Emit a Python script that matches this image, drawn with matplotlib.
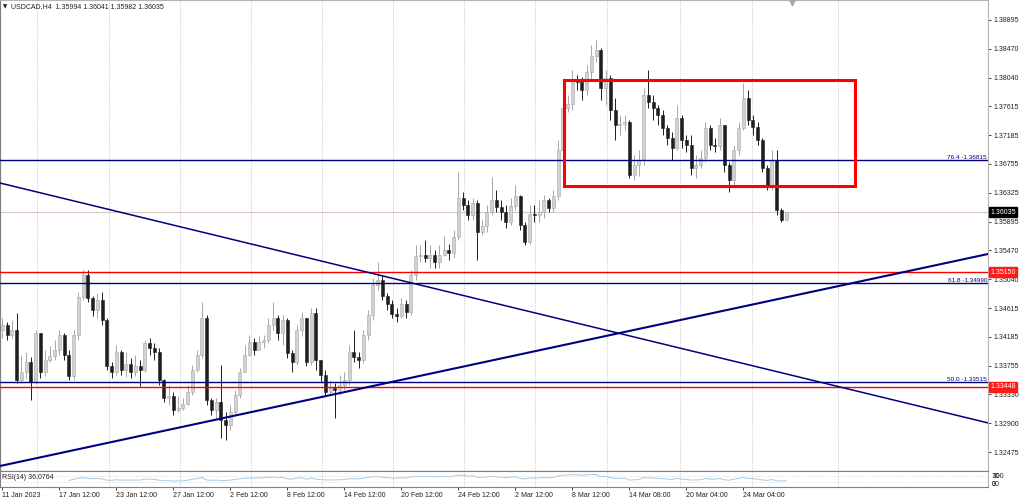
import matplotlib
matplotlib.use("Agg")
import matplotlib.pyplot as plt
import numpy as np

plt.rcParams['font.family'] = ['Liberation Sans', 'DejaVu Sans']

# ---------------- data ----------------
header_text = "USDCAD,H4  1.35994 1.36041 1.35982 1.36035"
rsi_text = "RSI(14) 36.0764"

first_open = 1.3429
closes = [
    1.3436, 1.3421, 1.3429, 1.3355, 1.3366, 1.3381, 1.3352, 1.3424, 1.3366, 1.3384,
    1.3390, 1.3399, 1.3421, 1.3392, 1.3360, 1.3421, 1.3478, 1.3511, 1.3476, 1.3459,
    1.3473, 1.3444, 1.3375, 1.3366, 1.3396, 1.3369, 1.3378, 1.3366, 1.3375, 1.3369,
    1.3410, 1.3402, 1.3396, 1.3355, 1.3328, 1.3331, 1.3310, 1.3313, 1.3319, 1.3337,
    1.3369, 1.3392, 1.3447, 1.3325, 1.3310, 1.3322, 1.3295, 1.3288, 1.3307, 1.3332,
    1.3366, 1.3392, 1.3411, 1.3399, 1.3411, 1.3414, 1.3436, 1.3447, 1.3424, 1.3444,
    1.3395, 1.3381, 1.3429, 1.3447, 1.3381, 1.3454, 1.3384, 1.3362, 1.3337, 1.3343,
    1.3340, 1.3347, 1.3355, 1.3396, 1.3389, 1.3384, 1.3421, 1.3451, 1.3496, 1.3503,
    1.3479, 1.3467, 1.3453, 1.3450, 1.3467, 1.3456, 1.3511, 1.3539, 1.3540, 1.3536,
    1.3540, 1.3530, 1.3540, 1.3548, 1.3543, 1.3567, 1.3625, 1.3615, 1.3600, 1.3618,
    1.3574, 1.3583, 1.3604, 1.3622, 1.3612, 1.3604, 1.3589, 1.3613, 1.3628, 1.3585,
    1.3560, 1.3601, 1.3600, 1.3604, 1.3622, 1.3610, 1.3628, 1.3696, 1.3759, 1.3765,
    1.3800, 1.3797, 1.3785, 1.3812, 1.3836, 1.3845, 1.3788, 1.3803, 1.3756, 1.3733,
    1.3735, 1.3738, 1.3659, 1.3674, 1.3681, 1.3778, 1.3768, 1.3759, 1.3748, 1.3729,
    1.3714, 1.3699, 1.3744, 1.3711, 1.3704, 1.3670, 1.3674, 1.3684, 1.3729, 1.3704,
    1.3702, 1.3733, 1.3674, 1.3652, 1.3696, 1.3729, 1.3774, 1.3741, 1.3731, 1.3711,
    1.3670, 1.3643, 1.3681, 1.3607, 1.3592, 1.36035]
highs = [
    1.3447, 1.3441, 1.3444, 1.3454, 1.3392, 1.3396, 1.3389, 1.3429, 1.3424, 1.3399,
    1.3405, 1.3414, 1.3429, 1.3424, 1.3399, 1.3429, 1.3485, 1.3518, 1.3518, 1.3479,
    1.3484, 1.3485, 1.3447, 1.3381, 1.3407, 1.3399, 1.3396, 1.3387, 1.3392, 1.3384,
    1.3414, 1.3417, 1.3410, 1.3402, 1.3356, 1.3347, 1.3337, 1.3331, 1.3328, 1.3347,
    1.3377, 1.3399, 1.3470, 1.3451, 1.3328, 1.3328, 1.3377, 1.3307, 1.3317, 1.3340,
    1.3372, 1.3407, 1.3421, 1.3417, 1.3420, 1.3421, 1.3447, 1.3470, 1.3451, 1.3451,
    1.3447, 1.3399, 1.3436, 1.3456, 1.3447, 1.3461, 1.3461, 1.3384, 1.3369, 1.3355,
    1.3350, 1.3362, 1.3366, 1.3407, 1.3429, 1.3396, 1.3429, 1.3459, 1.3506, 1.3530,
    1.3509, 1.3484, 1.3473, 1.3461, 1.3476, 1.3473, 1.3518, 1.3555, 1.3555, 1.3563,
    1.3555, 1.3548, 1.3555, 1.3569, 1.3557, 1.3577, 1.3664, 1.3634, 1.3622, 1.3625,
    1.3622, 1.3592, 1.3615, 1.3656, 1.3637, 1.3622, 1.3615, 1.3625, 1.3644, 1.3629,
    1.3589, 1.3615, 1.3615, 1.3622, 1.3629, 1.3625, 1.3637, 1.3711, 1.3771, 1.3778,
    1.3815, 1.3808, 1.3805, 1.3823, 1.3852, 1.3860, 1.3848, 1.3815, 1.3808, 1.3774,
    1.3748, 1.3748, 1.3741, 1.3689, 1.3696, 1.3788, 1.3815, 1.3778, 1.3763, 1.3756,
    1.3733, 1.3723, 1.3763, 1.3748, 1.3719, 1.3719, 1.3689, 1.3696, 1.3738, 1.3733,
    1.3714, 1.3744, 1.3733, 1.3678, 1.3704, 1.3738, 1.3796, 1.3785, 1.3748, 1.3738,
    1.3714, 1.3674, 1.3696, 1.3696, 1.3610, 1.36041]
lows = [
    1.3417, 1.3414, 1.3417, 1.3350, 1.3350, 1.3358, 1.3325, 1.3349, 1.3358, 1.3360,
    1.3381, 1.3384, 1.3392, 1.3384, 1.3355, 1.3355, 1.3414, 1.3473, 1.3470, 1.3450,
    1.3447, 1.3436, 1.3369, 1.3358, 1.3362, 1.3362, 1.3359, 1.3358, 1.3360, 1.3346,
    1.3366, 1.3392, 1.3384, 1.3347, 1.3322, 1.3317, 1.3302, 1.3307, 1.3310, 1.3317,
    1.3332, 1.3366, 1.3387, 1.3317, 1.3302, 1.3298, 1.3268, 1.3265, 1.3280, 1.3302,
    1.3328, 1.3366, 1.3390, 1.3392, 1.3399, 1.3402, 1.3410, 1.3429, 1.3414, 1.3407,
    1.3387, 1.3366, 1.3377, 1.3420, 1.3375, 1.3377, 1.3369, 1.3352, 1.3331, 1.3332,
    1.3298, 1.3332, 1.3340, 1.3347, 1.3381, 1.3372, 1.3380, 1.3414, 1.3444, 1.3488,
    1.3473, 1.3459, 1.3447, 1.3441, 1.3447, 1.3447, 1.3451, 1.3503, 1.3530, 1.3530,
    1.3521, 1.3521, 1.3521, 1.3539, 1.3533, 1.3536, 1.3563, 1.3607, 1.3592, 1.3592,
    1.3533, 1.3570, 1.3574, 1.3600, 1.3604, 1.3592, 1.3580, 1.3585, 1.3607, 1.3577,
    1.3555, 1.3557, 1.3589, 1.3589, 1.3595, 1.3604, 1.3604, 1.3622, 1.3689, 1.3753,
    1.3756, 1.3785, 1.3771, 1.3778, 1.3800, 1.3827, 1.3771, 1.3763, 1.3741, 1.3711,
    1.3719, 1.3726, 1.3655, 1.3652, 1.3658, 1.3674, 1.3759, 1.3741, 1.3733, 1.3719,
    1.3704, 1.3681, 1.3696, 1.3699, 1.3693, 1.3659, 1.3655, 1.3670, 1.3678, 1.3696,
    1.3693, 1.3696, 1.3664, 1.3634, 1.3644, 1.3689, 1.3726, 1.3733, 1.3719, 1.3704,
    1.3664, 1.3637, 1.3637, 1.3600, 1.3589, 1.35982]
opens = [first_open] + closes[:-1]

price_ticks = [1.38895, 1.38470, 1.38040, 1.37615, 1.37185, 1.36755, 1.36325,
               1.35895, 1.35470, 1.35040, 1.34615, 1.34185, 1.33755, 1.33330,
               1.32900, 1.32475]
time_labels = ["11 Jan 2023", "17 Jan 12:00", "23 Jan 12:00", "27 Jan 12:00",
               "2 Feb 12:00", "8 Feb 12:00", "14 Feb 12:00", "20 Feb 12:00",
               "24 Feb 12:00", "2 Mar 12:00", "8 Mar 12:00", "14 Mar 08:00",
               "20 Mar 04:00", "24 Mar 04:00"]
time_label_idx = [0, 12, 24, 36, 48, 60, 72, 84, 96, 108, 120, 132, 144, 156]
grid_idx = [7.3, 22.4, 37.4, 52.3, 67.3, 82.2, 97.2, 112.1, 127.3, 142.6, 157.8, 175.9]

fib_names = ["76.4", "61.8", "50.0"]
fib_levels = [1.36815, 1.34990, 1.33515]
red_levels = [1.35150, 1.33448]
last_price = 1.36035

desc_line = [(0, 1.36464), (165, 1.33636)]
asc_line = [(0, 1.32275), (165, 1.34774)]
box_x = [118.2, 179.5]
box_y = [1.36428, 1.38003]

price_top, price_bottom = 1.39192, 1.32193
n_visible = 208

# ---------------- figure ----------------
W, H = 1024, 501
fig = plt.figure(figsize=(W / 100, H / 100), dpi=100)
fig.patch.set_facecolor('white')
ax = fig.add_axes([0, (H - 471) / H, 988 / W, 471 / H])
ax_r = fig.add_axes([0, (H - 487) / H, 988 / W, 16 / H], sharex=ax)

navy = '#000080'
grid_col = '#c8c8c8'
fs = 5

ax.set_xlim(-0.5, n_visible - 0.5)
ax.set_ylim(price_bottom, price_top)

for g in grid_idx:
    ax.axvline(g, color=grid_col, lw=0.6, ls=(0, (1.5, 1.5)), zorder=0)
    ax_r.axvline(g, color=grid_col, lw=0.6, ls=(0, (1.5, 1.5)), zorder=0)

# candles
idx = np.arange(len(closes))
o = np.array(opens)
c = np.array(closes)
h = np.maximum(np.array(highs), np.maximum(o, c))
l = np.minimum(np.array(lows), np.minimum(o, c))
up = c >= o
up_col, up_edge, dn_col = '#d2d2d2', '#a6a6a6', '#1e1e1e'
ax.vlines(idx[up], l[up], h[up], color=up_edge, lw=0.7, zorder=2)
ax.vlines(idx[~up], l[~up], h[~up], color=dn_col, lw=0.7, zorder=2)
body_b = np.minimum(o, c)
body_h = np.maximum(np.abs(c - o), 0.00008)
ax.bar(idx[up], body_h[up], bottom=body_b[up], width=0.62, color=up_col,
       edgecolor=up_edge, linewidth=0.4, zorder=3)
ax.bar(idx[~up], body_h[~up], bottom=body_b[~up], width=0.62, color=dn_col,
       edgecolor=dn_col, linewidth=0.4, zorder=3)

# objects
ax.axhline(last_price, color='#dcc8c0', lw=0.8, zorder=1)
for lv in red_levels:
    ax.axhline(lv, color='#ff0000', lw=1.0, zorder=4)
for name, lv in zip(fib_names, fib_levels):
    ax.axhline(lv, color=navy, lw=1.0, zorder=4)
    ax.text(0.999, lv, f"{name} -{lv:.5f}", transform=ax.get_yaxis_transform(),
            ha='right', va='bottom', fontsize=4.6, color=navy, zorder=5)
ax.axline(desc_line[0], desc_line[1], color=navy, lw=1.1, zorder=4)
ax.axline(asc_line[0], asc_line[1], color=navy, lw=1.5, zorder=4)
ax.add_patch(plt.Rectangle((box_x[0], box_y[0]), box_x[1] - box_x[0], box_y[1] - box_y[0],
                           fill=False, edgecolor='#ff0000', lw=2.2, zorder=5))

# chart shift marker
ax.scatter([len(closes) + 0.3], [price_top - 0.0003], marker='v', s=22,
           color='#a8a8a8', clip_on=False, zorder=6)

# axes styling
ax.yaxis.tick_right()
ax.set_yticks(price_ticks)
ax.set_yticklabels([f"{p:.5f}" for p in price_ticks])
ax.tick_params(axis='y', length=2, pad=2, labelsize=fs, colors='#202020', width=0.6)
ax.tick_params(axis='x', bottom=False, labelbottom=False)
for s in ['left', 'bottom']:
    ax.spines[s].set_color('#808080')
    ax.spines[s].set_linewidth(0.9)
for s in ['top', 'right']:
    ax.spines[s].set_color('#b4b4b4')
    ax.spines[s].set_linewidth(0.8)

# price badges
ax.annotate(f"{last_price:.5f}", xy=(1, last_price), xycoords=ax.get_yaxis_transform(),
            xytext=(1.6, 0), textcoords='offset points', ha='left', va='center',
            fontsize=fs, color='white', zorder=7, annotation_clip=False,
            bbox=dict(boxstyle='square,pad=0.22', fc='black', ec='black'))
for lv in red_levels:
    ax.annotate(f"{lv:.5f}", xy=(1, lv), xycoords=ax.get_yaxis_transform(),
                xytext=(1.6, 0), textcoords='offset points', ha='left', va='center',
                fontsize=fs, color='white', zorder=7, annotation_clip=False,
                bbox=dict(boxstyle='square,pad=0.22', fc='#ff1a1a', ec='#ff1a1a'))

# RSI panel
cs = np.array(closes)
d = np.diff(cs)
gains = np.where(d > 0, d, 0.0)
losses = np.where(d < 0, -d, 0.0)
period = 14
rsi = np.full(len(cs), np.nan)
ag = gains[:period].mean()
al = losses[:period].mean()
rsi[period] = 100 - 100 / (1 + ag / al) if al > 0 else 100
for k in range(period + 1, len(cs)):
    ag = (ag * (period - 1) + gains[k - 1]) / period
    al = (al * (period - 1) + losses[k - 1]) / period
    rsi[k] = 100 - 100 / (1 + ag / al) if al > 0 else 100
ax_r.plot(idx, rsi, color='#a9cbe4', lw=0.7)
ax_r.axhline(70, color='#d0d0d0', lw=0.5, ls=(0, (1, 1.5)))
ax_r.axhline(30, color='#d0d0d0', lw=0.5, ls=(0, (1, 1.5)))
ax_r.set_ylim(0, 100)
ax_r.set_yticks([])
ax_r.text(0.002, 0.62, rsi_text, transform=ax_r.transAxes, fontsize=fs, va='center',
          color='#202020')
for s in ['left', 'bottom', 'top']:
    ax_r.spines[s].set_color('#808080')
    ax_r.spines[s].set_linewidth(0.8)
ax_r.spines['right'].set_color('#b4b4b4')
ax_r.spines['right'].set_linewidth(0.8)
ax_r.set_xticks(time_label_idx)
ax_r.set_xticklabels(time_labels, ha='left')
ax_r.tick_params(axis='x', length=2, pad=1.5, labelsize=fs, colors='#202020', width=0.6)

fig.text(992 / W, 1 - 476 / H, "100", fontsize=fs, va='center', color='#202020')
fig.text(992 / W, 1 - 476 / H, "70", fontsize=fs, va='center', color='#202020')
fig.text(992 / W, 1 - 484 / H, "30", fontsize=fs, va='center', color='#202020')
fig.text(992 / W, 1 - 484 / H, "0", fontsize=fs, va='center', color='#202020')

# header
fig.text(3 / W, 1 - 7 / H, "\u25bc", fontsize=4, va='center', color='#202020',
         family=['DejaVu Sans'])
fig.text(11 / W, 1 - 7 / H, header_text, fontsize=fs, va='center', color='#202020')

fig.savefig("out.png", dpi=100)
